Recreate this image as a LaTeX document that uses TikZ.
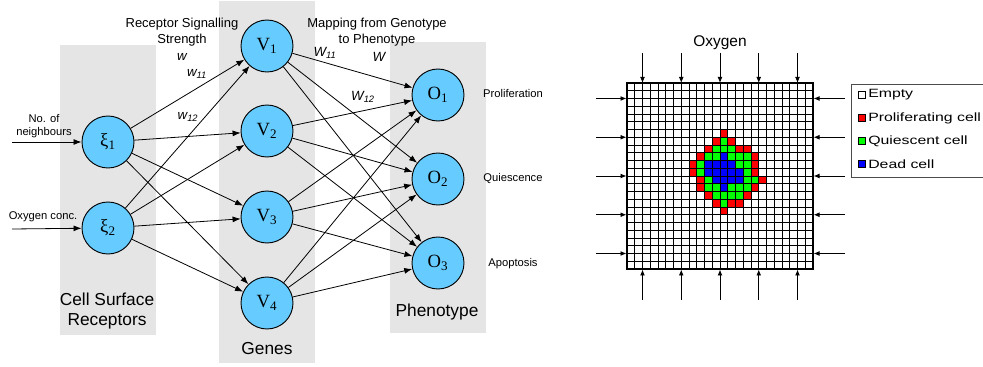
\documentclass[tikz,border=0pt]{standalone}
\usepackage{fontspec}
\setmainfont{Liberation Sans}
\newfontfamily\serifnode{Liberation Serif}
\usetikzlibrary{arrows.meta}
\definecolor{panel}{RGB}{229,229,229}
\definecolor{nodeblue}{RGB}{102,204,255}
\definecolor{cred}{RGB}{255,0,0}
\definecolor{cgreen}{RGB}{0,255,0}
\definecolor{cblue}{RGB}{0,0,255}
\begin{document}
\begin{tikzpicture}[x=0.75pt,y=-0.75pt,
  neuron/.style={circle,draw=black,line width=0.7pt,fill=nodeblue,minimum size=39pt,inner sep=0pt,
    font=\serifnode\fontsize{14}{16}\selectfont},
  link/.style={-{Latex[length=6pt,width=4.5pt]},line width=0.6pt},
  garrow/.style={-{Latex[length=4.5pt,width=3.6pt]},line width=0.6pt},
  bigtxt/.style={font=\fontsize{13}{15.5}\selectfont,align=center,inner sep=0pt},
  midtxt/.style={font=\fontsize{9.75}{12.2}\selectfont,align=center,inner sep=0pt},
  smalltxt/.style={font=\fontsize{8.4}{10.2}\selectfont,align=center,inner sep=0pt},
  wtxt/.style={font=\fontsize{10}{12}\selectfont\itshape,inner sep=0pt},
  legtxt/.style={font=\fontsize{9}{11}\selectfont,anchor=west,inner sep=0pt},
  legmark/.style={draw=black,line width=0.5pt,minimum size=5pt,inner sep=0pt},
  gridline/.style={line width=0.6pt,draw=black}
]
\useasboundingbox (0,0) rectangle (983,367);

% ---------- left: network ----------
\fill[panel] (60,45) rectangle (156,335);
\fill[panel] (219,1) rectangle (315,363);
\fill[panel] (390,42) rectangle (486,333);

\node[neuron] (x1) at (108,142) {ξ\textsubscript{1}};
\node[neuron] (x2) at (108,228) {ξ\textsubscript{2}};
\node[neuron] (v1) at (267,46) {V\textsubscript{1}};
\node[neuron] (v2) at (267,131) {V\textsubscript{2}};
\node[neuron] (v3) at (267,217) {V\textsubscript{3}};
\node[neuron] (v4) at (267,303) {V\textsubscript{4}};
\node[neuron] (o1) at (438,95) {O\textsubscript{1}};
\node[neuron] (o2) at (438,179) {O\textsubscript{2}};
\node[neuron] (o3) at (438,263) {O\textsubscript{3}};

\foreach \a in {x1,x2}
  \foreach \b in {v1,v2,v3,v4}
    \draw[link] (\a) -- (\b);
\foreach \a in {v1,v2,v3,v4}
  \foreach \b in {o1,o2,o3}
    \draw[link] (\a) -- (\b);

\coordinate (in1) at (12,142);
\coordinate (in2) at (12,229);
\draw[link] (in1) -- (x1);
\draw[link] (in2) -- (x2);

\node[smalltxt] (lnb) at (44,126) {No. of\\neighbours};
\node[smalltxt] (lox) at (43,217) {Oxygen conc.};
\node[midtxt] (lrs) at (182,32) {Receptor Signalling\\Strength};
\node[midtxt] (lmap) at (377,32) {Mapping from Genotype\\to Phenotype};
\node[wtxt] (lw) at (182,57) {w};
\node[wtxt] (lw11) at (197,74) {w\textsubscript{11}};
\node[wtxt] (lw12) at (188,117) {w\textsubscript{12}};
\node[wtxt] (lW11) at (325,53) {W\textsubscript{11}};
\node[wtxt] (lW) at (379,57) {W};
\node[wtxt] (lW12) at (363,97) {W\textsubscript{12}};
\node[smalltxt] (lpro) at (513,93) {Proliferation};
\node[smalltxt] (lqui) at (513,179) {Quiescence};
\node[smalltxt] (lapo) at (513,264) {Apoptosis};
\node[bigtxt] (lcsr) at (107,311) {Cell Surface\\Receptors};
\node[bigtxt] (lgen) at (267,349) {Genes};
\node[bigtxt] (lphe) at (437,312) {Phenotype};

% ---------- right: lattice ----------
\foreach \r/\c/\col in {
  6/12/cred,
  7/11/cred, 7/12/cgreen, 7/13/cred,
  8/10/cred, 8/11/cgreen, 8/12/cgreen, 8/13/cgreen, 8/14/cred, 8/15/cred,
  9/9/cred, 9/10/cgreen, 9/11/cgreen, 9/12/cblue, 9/13/cgreen, 9/14/cgreen, 9/15/cgreen, 9/16/cred,
  10/8/cred, 10/9/cgreen, 10/10/cblue, 10/11/cblue, 10/12/cblue, 10/13/cblue, 10/14/cgreen, 10/15/cgreen, 10/16/cred,
  11/8/cred, 11/9/cgreen, 11/10/cblue, 11/11/cblue, 11/12/cblue, 11/13/cblue, 11/14/cblue, 11/15/cgreen, 11/16/cred,
  12/9/cred, 12/10/cgreen, 12/11/cblue, 12/12/cblue, 12/13/cblue, 12/14/cblue, 12/15/cgreen, 12/16/cgreen, 12/17/cred,
  13/9/cred, 13/10/cgreen, 13/11/cgreen, 13/12/cblue, 13/13/cgreen, 13/14/cgreen, 13/15/cgreen, 13/16/cred,
  14/10/cred, 14/11/cgreen, 14/12/cgreen, 14/13/cgreen, 14/14/cgreen, 14/15/cred,
  15/11/cred, 15/12/cgreen, 15/13/cred, 15/14/cred,
  16/12/cred}
  \fill[\col] ({627+7.75*\c},{83+7.75*\r}) rectangle ++(7.75,7.75);

\foreach \i in {1,...,23} {
  \draw[gridline] ({627+7.75*\i},83) -- ({627+7.75*\i},269);
  \draw[gridline] (627,{83+7.75*\i}) -- (813,{83+7.75*\i});
}
\node[draw=black,line width=1.5pt,minimum width=139.5pt,minimum height=139.5pt,inner sep=0pt] (grid) at (720,176) {};

\node[font=\fontsize{11.6}{14}\selectfont,inner sep=0pt] (loxy) at (720,43) {Oxygen};

\foreach \k in {2,7,12,17,22} {
  \draw[garrow] ({627+7.75*\k},53) -- ({627+7.75*\k},83);
  \draw[garrow] ({627+7.75*\k},300) -- ({627+7.75*\k},269.5);
  \draw[garrow] (596,{83+7.75*\k}) -- (626.5,{83+7.75*\k});
  \draw[garrow] (845,{83+7.75*\k}) -- (813.5,{83+7.75*\k});
}

% ---------- legend ----------
\draw[draw=black!70,line width=0.6pt] (851,84) rectangle (1000,177);
\node[legmark,fill=white] (m1) at (861.5,95) {};
\node[legmark,fill=cred] (m2) at (861.5,118) {};
\node[legmark,fill=cgreen] (m3) at (861.5,141) {};
\node[legmark,fill=cblue] (m4) at (861.5,164) {};
\node[legtxt] (t1) at (868,95) {\scalebox{1.32}[1]{Empty}};
\node[legtxt] (t2) at (868,118) {\scalebox{1.32}[1]{Proliferating cell}};
\node[legtxt] (t3) at (868,141) {\scalebox{1.32}[1]{Quiescent cell}};
\node[legtxt] (t4) at (868,164) {\scalebox{1.32}[1]{Dead cell}};
\end{tikzpicture}
\end{document}
